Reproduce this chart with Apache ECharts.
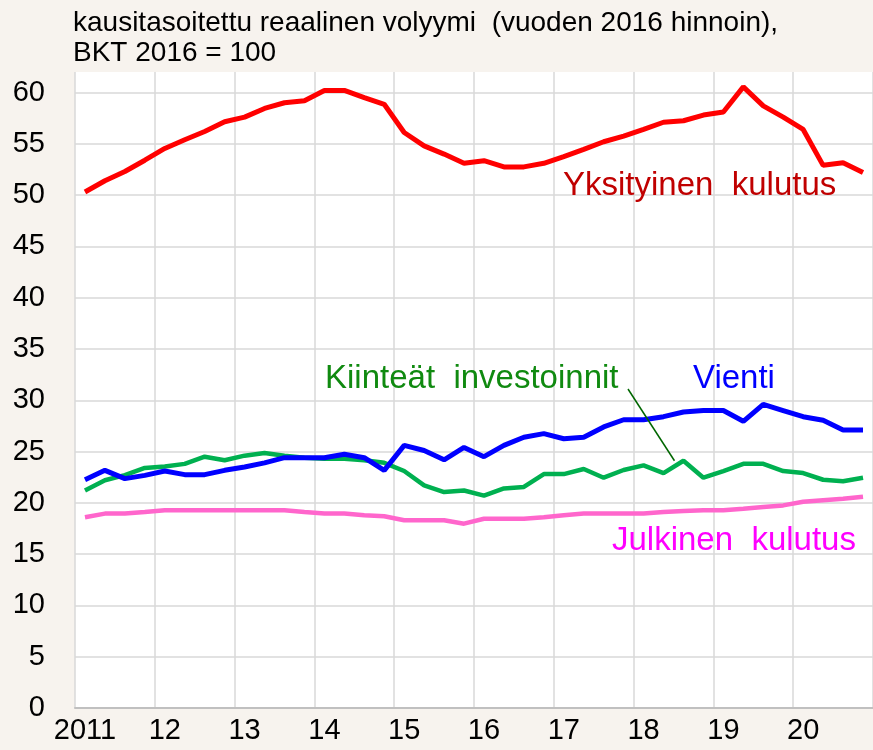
<!DOCTYPE html>
<html>
<head>
<meta charset="utf-8">
<script src="https://cdn.jsdelivr.net/npm/echarts@6/dist/echarts.min.js"></script>
<style>
html,body{margin:0;padding:0;background:#f7f3ee;}
#c{width:873px;height:750px;}
</style>
</head>
<body>
<div id="c"></div>
<script>
// Quarterly categories 2011Q1 .. 2020Q4
var years = ['2011','2012','2013','2014','2015','2016','2017','2018','2019','2020'];
var yearLabels = ['2011','12','13','14','15','16','17','18','19','20'];
var categories = [];
years.forEach(function(y){ for (var q=1;q<=4;q++) categories.push(y+'Q'+q); });

var yksityinenKulutus = [50.3,51.4,52.3,53.4,54.55,55.4,56.2,57.15,57.6,58.45,59.0,59.2,60.2,60.2,59.5,58.85,56.1,54.8,
  54.0,53.1,53.35,52.75,52.75,53.1,53.75,54.45,55.2,55.75,56.4,57.1,57.25,57.8,58.1,60.55,58.7,57.6,56.4,52.9,53.15,52.2];
var vienti = [22.26,23.17,22.36,22.68,23.1,22.75,22.75,23.17,23.5,23.9,24.4,24.4,24.4,24.73,24.4,23.17,25.6,25.1,
  24.2,25.4,24.5,25.6,26.4,26.75,26.25,26.4,27.4,28.1,28.1,28.4,28.85,29.0,29.0,27.95,29.6,29.0,28.4,28.05,27.1,27.1];
var kiinteatInvestoinnit = [21.2,22.2,22.7,23.4,23.55,23.8,24.5,24.15,24.6,24.85,24.6,24.4,24.3,24.3,24.15,23.9,23.1,21.7,
  21.05,21.2,20.7,21.4,21.55,22.8,22.8,23.3,22.45,23.2,23.65,22.9,24.1,22.45,23.1,23.8,23.8,23.1,22.9,22.25,22.1,22.45];
var julkinenKulutus = [18.6,18.95,18.95,19.1,19.27,19.27,19.27,19.27,19.27,19.27,19.27,19.1,18.95,18.95,18.8,18.7,18.3,18.3,
  18.3,17.97,18.45,18.45,18.45,18.6,18.8,18.95,18.95,18.95,18.95,19.1,19.2,19.27,19.27,19.43,19.6,19.75,20.1,20.25,20.4,20.6];

var FONT = '"Liberation Sans", Arial, sans-serif';
var chart = echarts.init(document.getElementById('c'));

var splitColors = [];
for (var i=0;i<13;i++) splitColors.push('#d9d9d9');
splitColors.push('rgba(0,0,0,0)');

function line(name, data, color, width, z){
  return {name:name, type:'line', data:data, symbol:'none', z:z,
    lineStyle:{color:color, width:width}, itemStyle:{color:color}, animation:false};
}

chart.setOption({
  backgroundColor:'#f7f3ee',
  animation:false,
  grid:{left:75, right:-2, top:72, bottom:42, show:true, backgroundColor:'#ffffff', borderWidth:0},
  xAxis:{type:'category', data:categories, boundaryGap:true,
    axisLine:{show:true, lineStyle:{color:'#c0c0c0', width:2}},
    axisTick:{show:false},
    axisLabel:{interval:3, margin:8, color:'#000', fontFamily:FONT, fontSize:29,
      formatter:function(v){ return yearLabels[years.indexOf(v.slice(0,4))]; }},
    splitLine:{show:true, interval:3, lineStyle:{color:'#d9d9d9', width:1.5}}
  },
  yAxis:{type:'value', min:0, max:62, interval:5,
    axisLine:{show:false}, axisTick:{show:false},
    axisLabel:{margin:30, color:'#000', fontFamily:FONT, fontSize:29, showMaxLabel:false,
      formatter:function(v){ return (v%5===0)? String(v) : ''; }},
    splitLine:{show:true, lineStyle:{color:splitColors, width:1.5}}
  },
  series:[
    line('Julkinen kulutus', julkinenKulutus, '#ff66cc', 4.5, 2),
    line('Kiinteät investoinnit', kiinteatInvestoinnit, '#00b050', 4.5, 3),
    line('Vienti', vienti, '#0000ff', 5, 4),
    line('Yksityinen kulutus', yksityinenKulutus, '#ff0000', 5, 5)
  ]
});

var p = chart.convertToPixel({seriesIndex:1}, [30, kiinteatInvestoinnit[30]]);
function txt(s, x, y, color, size){
  return {type:'text', left:x, top:y, z:100, style:{text:s, fill:color, font:size+'px '+FONT, textVerticalAlign:'middle'}};
}
chart.setOption({graphic:[
  {type:'text', x:73, y:23.5, z:100, style:{text:'kausitasoitettu reaalinen volyymi  (vuoden 2016 hinnoin),', fill:'#000', font:'28px '+FONT, textVerticalAlign:'middle'}},
  {type:'text', x:73, y:53.5, z:100, style:{text:'BKT 2016 = 100', fill:'#000', font:'28px '+FONT, textVerticalAlign:'middle'}},
  {type:'text', x:563, y:186, z:100, style:{text:'Yksityinen  kulutus', fill:'#c00000', font:'33px '+FONT, textVerticalAlign:'middle'}},
  {type:'text', x:325, y:379, z:100, style:{text:'Kiinteät  investoinnit', fill:'#108a10', font:'33px '+FONT, textVerticalAlign:'middle'}},
  {type:'text', x:693, y:379, z:100, style:{text:'Vienti', fill:'#0000ff', font:'33px '+FONT, textVerticalAlign:'middle'}},
  {type:'text', x:612, y:541, z:100, style:{text:'Julkinen  kulutus', fill:'#ff00ff', font:'33px '+FONT, textVerticalAlign:'middle'}},
  {type:'line', z:100, shape:{x1:628, y1:389, x2:p[0]-9, y2:p[1]}, style:{stroke:'#006600', lineWidth:1.5}}
]});
</script>
</body>
</html>
